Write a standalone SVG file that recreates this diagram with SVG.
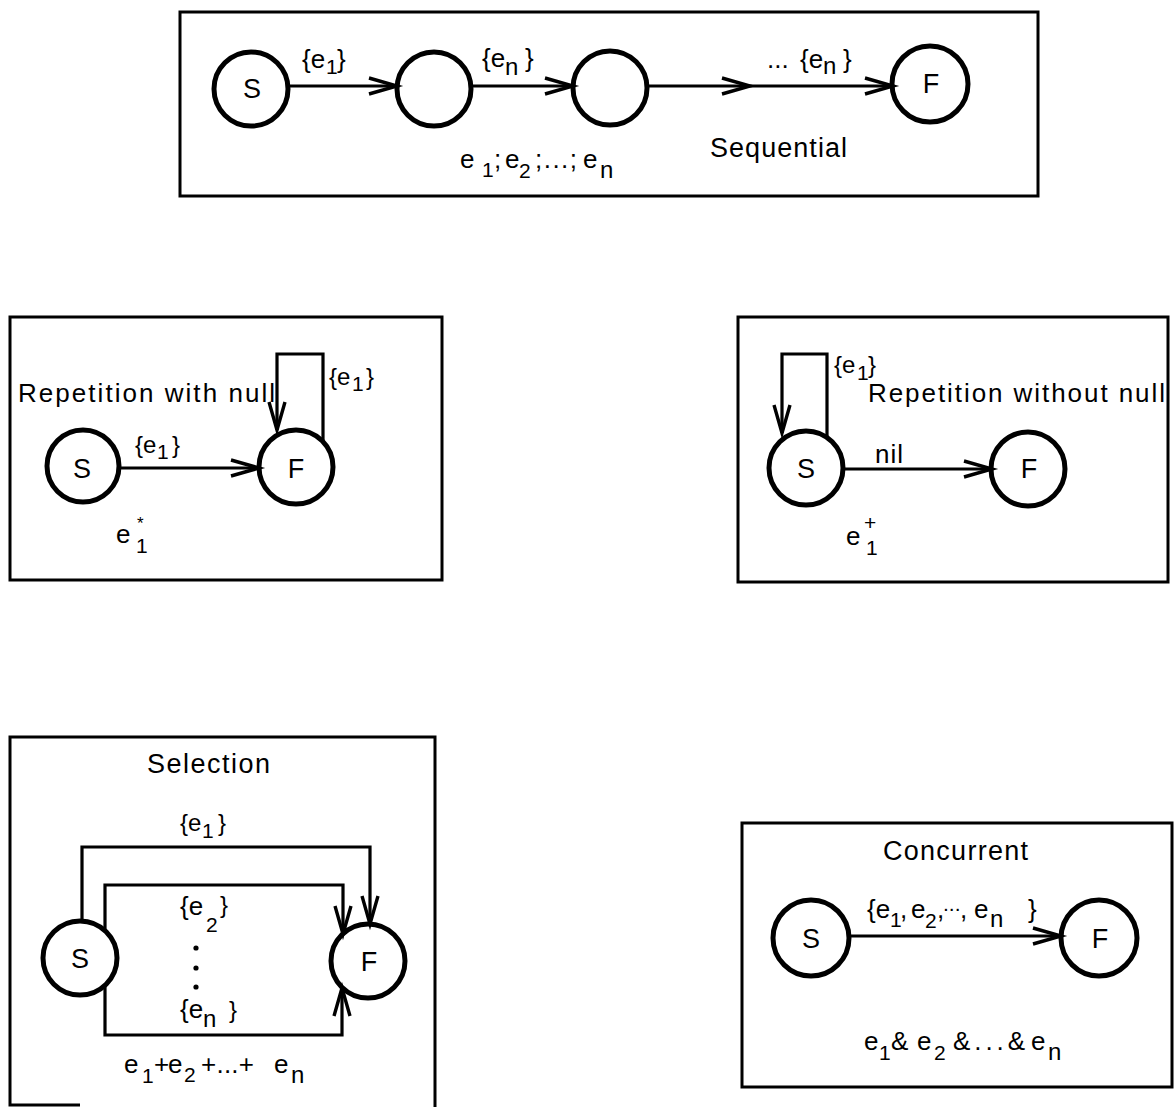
<svg xmlns="http://www.w3.org/2000/svg" width="1175" height="1107" viewBox="0 0 1175 1107">
<style>
.box{fill:none;stroke:#000;stroke-width:3}
.node{fill:#fff;stroke:#000;stroke-width:5}
.edge{fill:none;stroke:#000;stroke-width:3.2}
text{font-family:"Liberation Sans",Arial,Helvetica,sans-serif;fill:#000;font-size:26px}
.c{text-anchor:middle;font-size:27px}
.s{font-size:21px}
.t{font-size:24px}
</style>
<defs>
<marker id="ah" markerUnits="userSpaceOnUse" markerWidth="40" markerHeight="20" viewBox="0 0 40 20" refX="30" refY="10" orient="auto">
<path d="M2 2 L30 10 L2 18" fill="none" stroke="#000" stroke-width="3.4"/>
</marker>
</defs>
<rect width="1175" height="1107" fill="#fff"/>

<!-- Sequential -->
<g id="sequential">
<rect class="box" x="180" y="12" width="858" height="184"/>
<g id="seq-S"><circle class="node" cx="251" cy="89" r="37"/><text class="c" x="252" y="98">S</text></g>
<g id="seq-n2"><circle class="node" cx="434" cy="89" r="37"/></g>
<g id="seq-n3"><circle class="node" cx="610" cy="88" r="37"/></g>
<g id="seq-F"><circle class="node" cx="930" cy="84" r="38"/><text class="c" x="931" y="93">F</text></g>
<text x="302" y="68">{e</text><text class="s" x="326" y="74">1</text><text x="337" y="68">}</text>
<text x="482" y="67">{e</text><text class="t" x="505" y="75">n</text><text x="525" y="67">}</text>
<text x="767" y="68">...</text><text x="800" y="68">{e</text><text class="t" x="823" y="74">n</text><text x="843" y="68">}</text>
<text x="460" y="168">e</text><text class="s" x="482" y="177">1</text><text x="494" y="168">;</text>
<text x="505" y="168">e</text><text class="s" x="519" y="178">2</text><text x="535" y="168" textLength="42" lengthAdjust="spacing">;...;</text>
<text x="583" y="168">e</text><text class="t" x="600" y="178">n</text>
<text x="710" y="157" style="font-size:27px" textLength="137" lengthAdjust="spacing">Sequential</text>
</g>

<!-- Repetition with null -->
<g id="rep-null">
<rect class="box" x="10" y="317" width="432" height="263"/>
<g id="rn-S"><circle class="node" cx="83" cy="466" r="36"/><text class="c" x="82" y="478">S</text></g>
<g id="rn-F"><circle class="node" cx="296" cy="467" r="37"/><text class="c" x="296" y="478">F</text></g>
<text x="18" y="402" textLength="257" lengthAdjust="spacing">Repetition with null</text>
<text class="t" x="135" y="453">{e</text><text class="s" x="157" y="459">1</text><text class="t" x="172" y="453">}</text>
<text class="t" x="329" y="385">{e</text><text class="s" x="352" y="391">1</text><text class="t" x="366" y="385">}</text>
<text x="116" y="543">e</text><text class="s" x="136" y="553">1</text><text style="font-size:17px" x="137" y="529">*</text>
</g>

<!-- Repetition without null -->
<g id="rep-nonull">
<rect class="box" x="738" y="317" width="430" height="265"/>
<g id="rw-S"><circle class="node" cx="806" cy="468" r="37"/><text class="c" x="806" y="478">S</text></g>
<g id="rw-F"><circle class="node" cx="1028" cy="469" r="37"/><text class="c" x="1029" y="478">F</text></g>
<text x="868" y="402" textLength="297" lengthAdjust="spacing">Repetition without null</text>
<text x="875" y="463" textLength="28" lengthAdjust="spacing">nil</text>
<text class="t" x="834" y="373">{e</text><text class="s" x="857" y="380">1</text><text class="t" x="868" y="373">}</text>
<text x="846" y="545">e</text><text class="s" x="866" y="555">1</text><text style="font-size:21px" x="864" y="530">+</text>
</g>

<!-- Selection -->
<g id="selection">
<path class="box" d="M80 1105 L10 1105 L10 737 L435 737 L435 1107"/>
<text x="147" y="773" style="font-size:27px" textLength="123" lengthAdjust="spacing">Selection</text>
<g id="sel-S"><circle class="node" cx="80" cy="958" r="37"/><text class="c" x="80" y="968">S</text></g>
<g id="sel-F"><circle class="node" cx="368" cy="961" r="37"/><text class="c" x="369" y="971">F</text></g>
<text class="t" x="180" y="831">{e</text><text class="s" x="202" y="838">1</text><text class="t" x="218" y="831">}</text>
<text x="180" y="915">{e</text><text class="s" x="206" y="932">2</text><text class="t" x="220" y="913">}</text>
<circle cx="196" cy="948" r="2.6"/><circle cx="196" cy="968" r="2.6"/><circle cx="196" cy="987" r="2.6"/>
<text x="180" y="1018">{e</text><text class="t" x="203" y="1027">n</text><text class="t" x="229" y="1018">}</text>
<text x="124" y="1073">e</text><text class="s" x="142" y="1083">1</text><text x="154" y="1073">+</text>
<text x="168" y="1073">e</text><text class="s" x="184" y="1082">2</text><text x="201" y="1073" textLength="53" lengthAdjust="spacing">+...+</text>
<text x="274" y="1073">e</text><text class="t" x="291" y="1083">n</text>
</g>

<!-- Concurrent -->
<g id="concurrent">
<rect class="box" x="742" y="823" width="430" height="264"/>
<text x="883" y="860" style="font-size:27px" textLength="145" lengthAdjust="spacing">Concurrent</text>
<g id="con-S"><circle class="node" cx="811" cy="938" r="38"/><text class="c" x="811" y="948">S</text></g>
<g id="con-F"><circle class="node" cx="1099" cy="938" r="38"/><text class="c" x="1100" y="948">F</text></g>
<text x="867" y="918">{e</text><text class="s" x="890" y="927">1</text><text x="900" y="918">,</text>
<text x="911" y="918">e</text><text class="s" x="925" y="928">2</text><text x="937" y="918">,</text>
<text class="s" x="943" y="911">...</text><text x="960" y="918">,</text>
<text x="974" y="918">e</text><text class="t" x="990" y="927">n</text><text x="1028" y="918">}</text>
<text x="864" y="1050">e</text><text class="s" x="879" y="1060">1</text><text x="891" y="1050">&amp;</text>
<text x="917" y="1050">e</text><text class="s" x="934" y="1060">2</text><text x="953" y="1050" textLength="72" lengthAdjust="spacing">&amp;...&amp;</text>
<text x="1031" y="1050">e</text><text class="t" x="1048" y="1060">n</text>
</g>

<!-- Connectors -->
<g id="connectors">
<path class="edge" marker-end="url(#ah)" d="M289 86 L397 86"/>
<path class="edge" marker-end="url(#ah)" d="M472 86 L573 86"/>
<path class="edge" marker-mid="url(#ah)" marker-end="url(#ah)" d="M647 86 L750 86 L893 86"/>
<path class="edge" marker-end="url(#ah)" d="M119 468 L259 468"/>
<path class="edge" marker-end="url(#ah)" d="M323 442 L323 354 L277 354 L277 430"/>
<path class="edge" marker-end="url(#ah)" d="M843 469 L992 469"/>
<path class="edge" marker-end="url(#ah)" d="M827 437 L827 354 L782 354 L782 433"/>
<path class="edge" marker-end="url(#ah)" d="M82 921 L82 847 L370 847 L370 924"/>
<path class="edge" marker-end="url(#ah)" d="M105 931 L105 885 L343 885 L343 934"/>
<path class="edge" marker-end="url(#ah)" d="M105 985 L105 1035 L342 1035 L342 988"/>
<path class="edge" marker-end="url(#ah)" d="M849 936 L1061 936"/>
</g>
</svg>
